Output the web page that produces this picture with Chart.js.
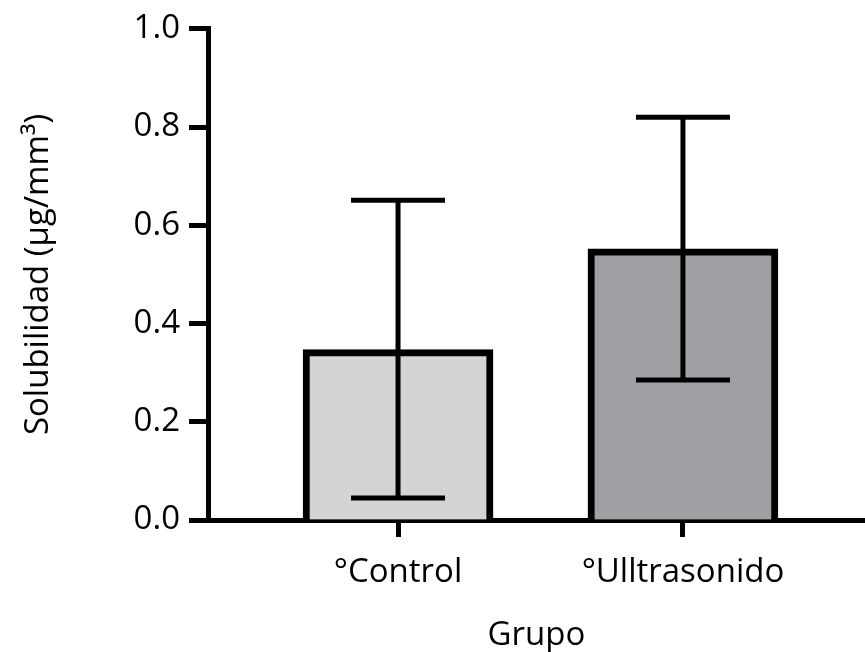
<!DOCTYPE html>
<html>
<head>
<meta charset="utf-8">
<script src="https://cdn.jsdelivr.net/npm/chart.js@4"></script>
<style>
  html, body { margin: 0; padding: 0; background: #fff; }
  #wrap { width: 865px; height: 652px; }
</style>
</head>
<body>
<div id="wrap"><canvas id="chart-sol" width="865" height="652"></canvas></div>
<script>
// data
var grupos = ['°Control', '°Ulltrasonido'];
var medias = [0.347, 0.552];
var errBajo = [0.045, 0.285];
var errAlto = [0.651, 0.820];
var yTicks = [0, 0.2, 0.4, 0.6, 0.8, 1.0];
var colores = ['#d4d4d4', '#a09fa4'];

Chart.defaults.color = '#000';
Chart.defaults.font.family = '"Open Sans", sans-serif';

// error bars (low/high) drawn through the scales
var barrasError = {
    id: 'barrasError',
    afterDatasetsDraw: function (chart) {
        var ctx = chart.ctx;
        var xs = chart.scales.x, ys = chart.scales.y;
        ctx.save();
        ctx.strokeStyle = '#000';
        ctx.lineWidth = 5;
        grupos.forEach(function (g, i) {
            var x = xs.getPixelForValue(i + 1);
            var y1 = ys.getPixelForValue(errBajo[i]);
            var y2 = ys.getPixelForValue(errAlto[i]);
            ctx.beginPath();
            ctx.moveTo(x, y1); ctx.lineTo(x, y2);
            ctx.moveTo(x - 47, y1); ctx.lineTo(x + 47, y1);
            ctx.moveTo(x - 47, y2); ctx.lineTo(x + 47, y2);
            ctx.stroke();
        });
        ctx.restore();
    }
};

var ctx = document.getElementById('chart-sol').getContext('2d');
var chart = new Chart(ctx, {
    type: 'bar',
    data: {
        datasets: [{
            data: medias.map(function (v, i) { return { x: i + 1, y: v }; }),
            backgroundColor: colores,
            borderColor: '#000',
            borderWidth: 7,
            borderSkipped: 'start',
            barThickness: 190
        }]
    },
    plugins: [barrasError],
    options: {
        responsive: false,
        animation: false,
        layout: { padding: { top: 25, left: 0, right: 0, bottom: 0 } },
        plugins: {
            legend: { display: false },
            tooltip: { enabled: false }
        },
        scales: {
            x: {
                type: 'linear',
                offset: false,
                min: 0.333,
                max: 2.639,
                z: 1,
                afterBuildTicks: function (s) {
                    s.ticks = grupos.map(function (g, i) { return { value: i + 1 }; });
                },
                afterFit: function (s) { s.height = 132; },
                ticks: {
                    callback: function (v) { return grupos[v - 1]; },
                    font: { size: 33 },
                    padding: 16,
                    maxRotation: 0
                },
                grid: {
                    offset: false,
                    drawOnChartArea: false,
                    tickLength: 17,
                    tickWidth: 5,
                    tickColor: '#000'
                },
                border: { color: '#000', width: 5 },
                title: {
                    display: true,
                    text: 'Grupo',
                    font: { size: 33, lineHeight: 1 },
                    padding: 0
                }
            },
            y: {
                min: 0,
                max: 1,
                z: 1,
                afterBuildTicks: function (s) {
                    s.ticks = yTicks.map(function (v) { return { value: v }; });
                },
                afterFit: function (s) { s.width = 208; },
                ticks: {
                    callback: function (v) { return v.toFixed(1); },
                    font: { size: 33 },
                    padding: 9
                },
                grid: {
                    drawOnChartArea: false,
                    tickLength: 19,
                    tickWidth: 5,
                    tickColor: '#000'
                },
                border: { color: '#000', width: 5 },
                title: {
                    display: true,
                    text: 'Solubilidad (µg/mm³)',
                    font: { size: 33, lineHeight: 1 },
                    padding: { top: 22 }
                }
            }
        }
    }
});
</script>
</body>
</html>
